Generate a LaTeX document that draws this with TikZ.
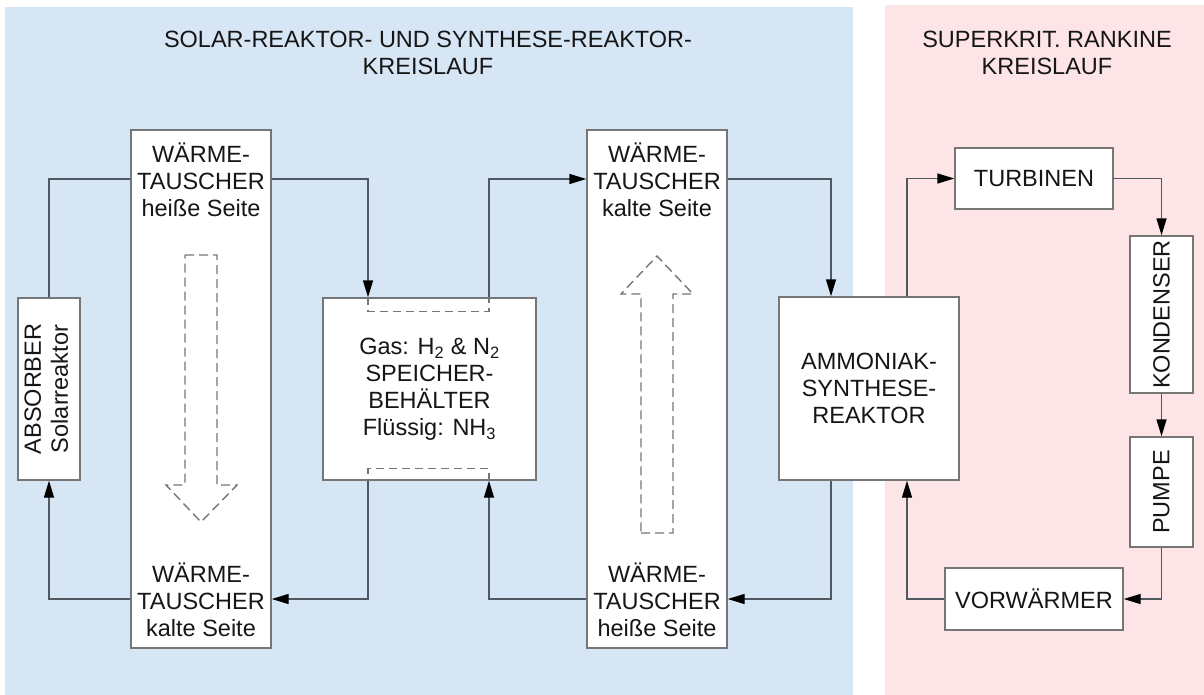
\documentclass[tikz,border=0pt]{standalone}
\usepackage{fontspec}
\setmainfont{Liberation Sans}
\usetikzlibrary{arrows.meta}
\definecolor{solarblue}{RGB}{214,230,245}
\definecolor{rankinepink}{RGB}{252,228,231}
\definecolor{pipegray}{RGB}{80,88,98}
\definecolor{boxgray}{RGB}{118,118,118}
\definecolor{hintgray}{RGB}{118,118,118}
\definecolor{inkgray}{RGB}{22,22,22}
\newcommand{\diagfont}{\fontsize{23.5}{27}\selectfont}
\tikzset{
 pipe/.style={draw=pipegray,line width=1.4pt},
 flow/.style={pipe,-{Triangle[length=17pt,width=10pt,color=black]}},
 innerpipe/.style={draw=hintgray,line width=1.4pt,dash pattern=on 8pt off 5pt},
 unit/.style={draw=boxgray,fill=white,line width=1.4pt,inner sep=0,align=center,text=inkgray,font=\diagfont},
 tag/.style={align=center,text=inkgray,font=\diagfont,inner sep=0},
 hint/.style={draw=hintgray,line width=1.4pt,dash pattern=on 9pt off 5pt}
}

\begin{document}
\begin{tikzpicture}[x=1pt,y=-1pt]
\useasboundingbox (0,0) rectangle (1204,695);
\fill[white] (0,0) rectangle (1204,695);
\fill[solarblue] (5,7) rectangle (853,695);
\fill[rankinepink] (885,5) rectangle (1204,695);
\node[tag] (soltitle) at (428,53) {SOLAR-REAKTOR- UND SYNTHESE-REAKTOR-\\KREISLAUF};
\node[tag] (rantitle) at (1047,53) {SUPERKRIT. RANKINE\\KREISLAUF};
% port levels and columns
\coordinate (upper) at (0,179);
\coordinate (lower) at (0,599);
\coordinate (sin) at (368,0);
\coordinate (sout) at (489,0);
\coordinate (rin) at (831,0);
\coordinate (rout) at (907,0);
% units
\node[unit,minimum width=62,minimum height=182] (absorber) at (49,389)
 {\rotatebox{90}{\begin{tabular}{@{}c@{}}ABSORBER\\Solarreaktor\end{tabular}}};
\node[unit,minimum width=140,minimum height=518] (wt1) at (201,389) {};
\node[tag] (wt1hot) at (201,180) {WÄRME-\\TAUSCHER\\heiße Seite};
\node[tag] (wt1cold) at (201,600) {WÄRME-\\TAUSCHER\\kalte Seite};
\node[unit,minimum width=213,minimum height=182] (store) at (429.5,389)
 {Gas: H\textsubscript{2} \& N\textsubscript{2}\\SPEICHER-\\BEHÄLTER\\Flüssig: NH\textsubscript{3}};
\node[unit,minimum width=140,minimum height=518] (wt2) at (657,389) {};
\node[tag] (wt2cold) at (657,180) {WÄRME-\\TAUSCHER\\kalte Seite};
\node[tag] (wt2hot) at (657,600) {WÄRME-\\TAUSCHER\\heiße Seite};
\node[unit,minimum width=180,minimum height=183] (react) at (869,388.5) {AMMONIAK-\\SYNTHESE-\\REAKTOR};
\node[unit,minimum width=158,minimum height=61] (turb) at (1034,178.5) {TURBINEN};
\node[unit,minimum width=63,minimum height=157] (kond) at (1161.5,314.5) {\rotatebox{90}{KONDENSER}};
\node[unit,minimum width=63,minimum height=110] (pump) at (1161.5,492) {\rotatebox{90}{PUMPE}};
\node[unit,minimum width=178,minimum height=62] (vorw) at (1034,599) {VORWÄRMER};
% heat direction
\draw[hint] (185,255) -- (217,255) -- (217,485) -- (237,485) -- (201,522) -- (166,485) -- (185,485) -- cycle;
\draw[hint] (641,533) -- (673,533) -- (673,294) -- (693,294) -- (657,256) -- (621,294) -- (641,294) -- cycle;
% solar loop
\draw[pipe] (absorber.north) |- (wt1.west |- upper);
\draw[flow] (wt1.west |- lower) -| (absorber.south);
% storage loop
\draw[flow] (wt1.east |- upper) -| (store.north -| sin);
\draw[innerpipe] (store.north -| sin) -- ++(0,14) -| (store.north -| sout);
\draw[flow] (store.north -| sout) |- (wt2.west |- upper);
\draw[flow] (wt2.east |- upper) -| (react.north -| rin);
\draw[flow] (react.south -| rin) |- (wt2.east |- lower);
\draw[flow] (wt2.west |- lower) -| (store.south -| sout);
\draw[innerpipe] (store.south -| sout) -- ++(0,-12) -| (store.south -| sin);
\draw[flow] (store.south -| sin) |- (wt1.east |- lower);
% rankine loop
\draw[flow] (react.north -| rout) |- (turb.west);
\draw[flow] (turb.east) -| (kond.north);
\draw[flow] (kond.south) -- (pump.north);
\draw[flow] (pump.south) |- (vorw.east);
\draw[flow] (vorw.west) -| (react.south -| rout);
\end{tikzpicture}
\end{document}
